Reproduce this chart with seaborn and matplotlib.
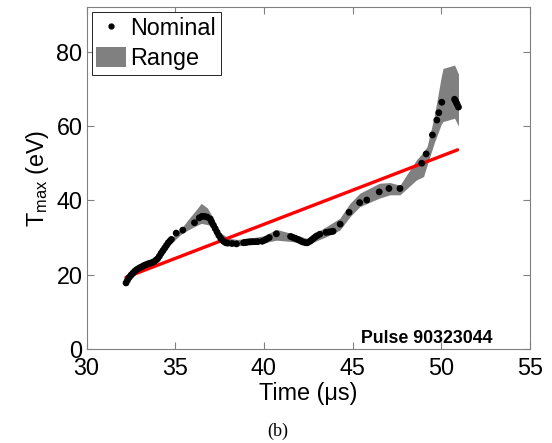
import numpy as np
import pandas as pd
import matplotlib
matplotlib.use("Agg")
import matplotlib.pyplot as plt
import seaborn as sns
from matplotlib.patches import Patch
from matplotlib.lines import Line2D

# ---- data ----
nom_t = [32.22, 32.3, 32.4, 32.5, 32.6, 32.7, 32.8, 32.9, 33.0, 33.1, 33.2, 33.3, 33.4, 33.5,
         33.6, 33.7, 33.8, 33.9, 34.0, 34.1, 34.2, 34.3, 34.4, 34.5, 34.6, 34.7, 34.78,
         35.05, 35.42, 36.08, 36.35, 36.5, 36.65, 36.8, 36.97,
         37.05, 37.15, 37.25, 37.35, 37.45, 37.55, 37.65, 37.75, 37.85, 37.95, 38.2, 38.45,
         38.85, 38.95, 39.05, 39.2, 39.35, 39.5, 39.65, 39.9, 40.05, 40.15, 40.3, 40.7,
         41.5, 41.6, 41.7, 41.8, 41.9, 42.0, 42.1, 42.2, 42.35, 42.45, 42.6, 42.7, 42.8,
         42.9, 43.0, 43.15, 43.5, 43.65, 43.8, 43.9,
         44.3, 44.8, 45.4, 45.8, 46.5, 47.05, 47.67,
         48.9, 49.15, 49.5, 49.75, 49.86, 50.03, 50.75, 50.8, 50.85, 50.9, 50.97]
nom_T = [17.8, 18.5, 19.3, 19.9, 20.4, 20.9, 21.3, 21.6, 21.9, 22.1, 22.4, 22.6, 22.8, 23.0,
         23.1, 23.3, 23.5, 23.9, 24.3, 25.0, 25.8, 26.5, 27.2, 27.9, 28.6, 29.1, 29.5,
         31.2, 32.0, 34.0, 35.3, 35.7, 35.7, 35.5, 35.0,
         34.2, 33.3, 32.4, 31.5, 30.6, 29.9, 29.3, 28.9, 28.6, 28.5, 28.4, 28.3,
         28.6, 28.7, 28.8, 28.9, 28.9, 28.9, 28.9, 29.0, 29.3, 29.6, 30.0, 31.0,
         30.3, 30.1, 29.9, 29.7, 29.5, 29.3, 29.0, 28.8, 28.6, 28.6, 29.0, 29.4, 29.8,
         30.2, 30.5, 30.9, 31.4, 31.5, 31.6, 31.7,
         33.6, 36.8, 39.4, 40.1, 42.3, 43.2, 43.2,
         50.0, 52.5, 57.6, 61.6, 63.6, 66.4, 67.2, 66.8, 66.3, 65.8, 65.1]

band_t = [32.2, 33.0, 34.0, 34.8, 35.3, 35.7, 36.1, 36.46, 36.8, 37.1, 37.5, 38.0, 38.5,
          39.2, 40.0, 40.7, 41.64, 42.4, 43.5, 44.28, 44.85, 45.4, 46.5, 47.1, 47.67,
          48.6, 49.0, 49.2, 49.6, 50.0, 50.1, 50.75, 50.97]
band_hi = [19.0, 22.6, 24.8, 30.0, 32.2, 34.7, 37.0, 39.2, 38.0, 35.6, 31.5, 29.8, 29.5,
           29.8, 30.5, 32.2, 31.0, 29.8, 32.9, 35.2, 39.2, 41.9, 44.6, 44.8, 44.1,
           50.9, 53.0, 54.5, 62.5, 73.3, 75.5, 76.4, 74.0]
band_lo = [17.3, 21.3, 23.3, 28.6, 30.8, 32.0, 33.0, 33.8, 33.5, 33.0, 28.8, 27.8, 27.8,
           28.0, 28.6, 29.3, 28.9, 28.0, 30.2, 32.0, 35.6, 38.3, 40.6, 41.5, 41.5,
           45.5, 46.4, 49.5, 55.4, 60.5, 61.2, 62.1, 60.0]

fit_t = [32.22, 50.92]
fit_T = [19.3, 53.6]

x_ticks = [30, 35, 40, 45, 50, 55]
y_ticks = [0, 20, 40, 60, 80]

sns.set_style("ticks")
plt.rcParams["font.family"] = ["Liberation Sans", "DejaVu Sans"]
plt.rcParams["mathtext.fontset"] = "custom"
plt.rcParams["mathtext.rm"] = "Liberation Sans"
plt.rcParams["mathtext.it"] = "Liberation Sans"
plt.rcParams["text.color"] = "black"
plt.rcParams["axes.labelcolor"] = "black"
plt.rcParams["xtick.labelcolor"] = "black"
plt.rcParams["ytick.labelcolor"] = "black"

fig = plt.figure(figsize=(5.52, 4.43), dpi=100)
ax = fig.add_axes([0.157, 0.212, 0.803, 0.772])

nom_df = pd.DataFrame({"t": nom_t, "T": nom_T})
fit_df = pd.DataFrame({"t": fit_t, "T": fit_T})

ax.fill_between(band_t, band_lo, band_hi, color="#808080", linewidth=0, zorder=1)
sns.lineplot(data=fit_df, x="t", y="T", color="#ff0000", linewidth=2.4, ax=ax, zorder=2)
sns.scatterplot(data=nom_df, x="t", y="T", color="black", s=24, edgecolor="none",
                ax=ax, zorder=3)

ax.set_xlim(30, 55)
ax.set_ylim(0, 92)
ax.set_xticks(x_ticks)
ax.set_yticks(y_ticks)
ax.tick_params(direction="in", length=5, width=0.8, color="#808080",
               labelsize=16.8, top=True, right=True)
ax.tick_params(axis="x", pad=6)
ax.tick_params(axis="y", pad=3)
for s in ax.spines.values():
    s.set_color("#808080")
    s.set_linewidth(0.8)

ax.set_xlabel("Time (\u03bcs)", fontsize=16.8, labelpad=1)
ax.set_ylabel(r"T$_{\rm max}$ (eV)", fontsize=16.8, labelpad=4)

handles = [Line2D([], [], marker="o", color="black", linestyle="none", markersize=3.5),
           Patch(facecolor="#808080", edgecolor="none")]
leg = ax.legend(handles, ["Nominal", "Range"], loc="upper left", fontsize=16.8,
                frameon=True, fancybox=False, edgecolor="black", framealpha=1,
                borderpad=0.2, labelspacing=0.3, handlelength=1.25, handleheight=0.95,
                handletextpad=0.2, borderaxespad=0.22)
leg.get_frame().set_linewidth(0.6)

ax.text(49.18, 1.7, "Pulse 90323044", fontsize=12.8, fontweight="bold", ha="center",
        va="baseline")

fig.text(0.503, 0.027, "(b)", fontsize=13, family=["Liberation Serif"], ha="center",
         va="center")

fig.savefig("out.png", dpi=100)
